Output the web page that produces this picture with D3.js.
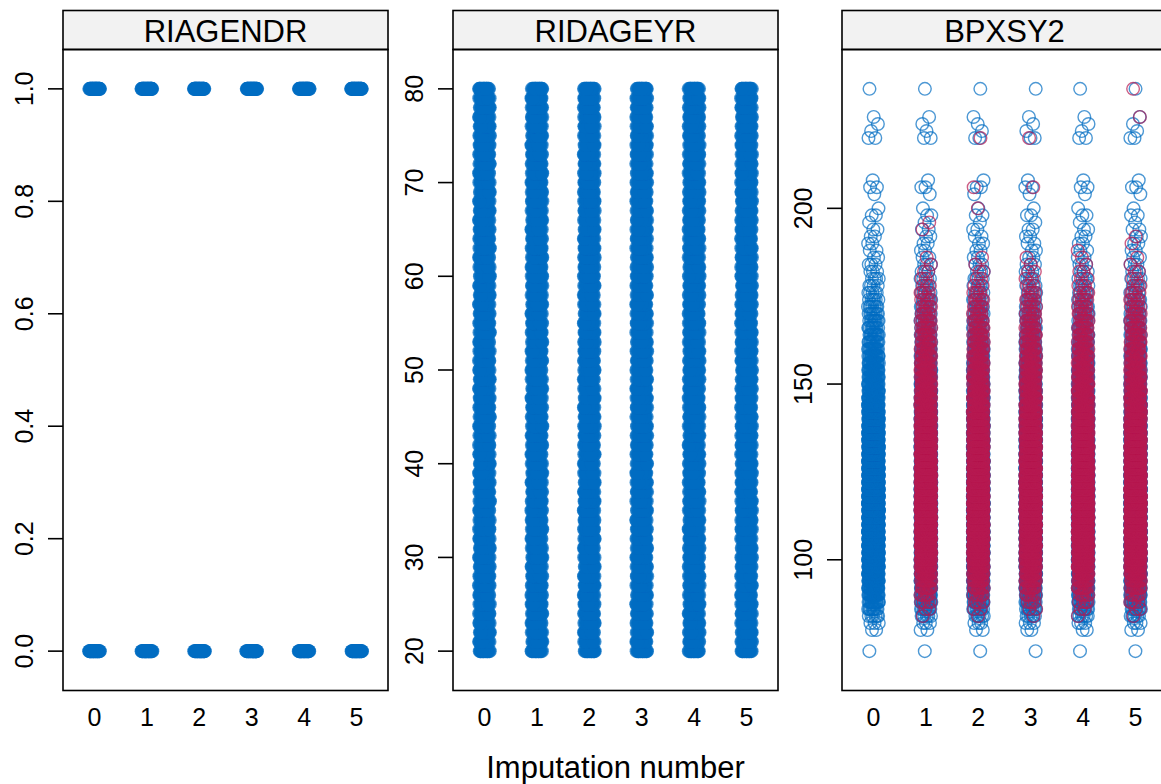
<!DOCTYPE html>
<html>
<head>
<meta charset="utf-8">
<script src="https://cdn.jsdelivr.net/npm/d3@7"></script>
<style>
  html, body { margin: 0; padding: 0; background: #ffffff; }
  svg { display: block; font-family: "Liberation Sans", Arial, Helvetica, sans-serif; }
</style>
</head>
<body>
<svg id="chart" width="1161" height="784"></svg>
<script>
// ---------------- DATA ----------------
const imputations = [0, 1, 2, 3, 4, 5];
const panelTitles = ["RIAGENDR", "RIDAGEYR", "BPXSY2"];
const xLabel = "Imputation number";

const genderValues = [0, 1];
const genderPointsPerValue = 30;

const ageValues = [20,21,22,23,24,25,26,27,28,29,30,31,32,33,34,35,36,37,38,39,40,
  41,42,43,44,45,46,47,48,49,50,51,52,53,54,55,56,57,58,59,60,
  61,62,63,64,65,66,67,68,69,70,71,72,73,74,75,76,77,78,79,80];
const agePointsPerValue = 16;

// Observed systolic BP (value, count) - same observed part in every column
const bpObsValues = [74,80,82,84,86,88,90,92,94,96,98,100,102,104,106,108,110,112,114,116,118,
  120,122,124,126,128,130,132,134,136,138,140,142,144,146,148,150,152,154,156,158,160,
  162,164,166,168,170,172,174,176,178,180,182,184,186,188,190,192,194,196,198,200,
  204,206,208,220,222,224,226,234];
const bpObsCounts = [1,2,3,6,10,16,22,28,34,40,46,52,56,60,63,66,68,70,70,70,68,
  66,64,62,60,57,54,50,47,44,41,38,35,32,29,26,24,22,20,18,16,14,
  12,11,10,9,8,7,6,5,4,4,3,3,2,2,2,2,2,1,2,1,
  1,2,1,2,1,1,1,1];

// Imputed systolic BP (value, count) per imputation 1..5
const bpImpValues = [84,86,88,90,92,94,96,98,100,102,104,106,108,110,112,114,116,118,120,
  122,124,126,128,130,132,134,136,138,140,142,144,146,148,150,152,154,156,158,160,
  162,164,166,168,170,172,174,176,178,180,182,184,186];
const bpImpCounts = [1,2,4,6,10,14,18,22,26,28,30,32,34,35,36,36,36,35,34,
  33,32,31,30,28,26,25,24,22,21,20,18,17,16,15,14,13,12,11,10,
  9,9,8,7,6,5,5,4,3,2,2,1,1];
// Imputation-specific extra imputed values (outliers)
const bpImpExtra = [[], [194, 196], [200, 206, 220], [206, 220], [188], [234, 226, 192, 190]];

const yTicks = [[0, 0.2, 0.4, 0.6, 0.8, 1.0], [20, 30, 40, 50, 60, 70, 80], [100, 150, 200]];
const yTickFormats = [d3.format(".1f"), d3.format("d"), d3.format("d")];

// ---------------- LAYOUT ----------------
const svg = d3.select("#chart");
const panelLefts = [63, 453, 842];
const panelW = 325;
const stripTop = 10.5, stripH = 39;
const plotTop = stripTop + stripH, plotBottom = 690.5;
const blue = "#006CC2", red = "#B61A51";
const jitterAmt = 0.105;

function jit(k, c) {
  const v = (k * 0.61803398875 + c * 0.2718 + 0.13) % 1;
  return v * 2 - 1;
}
function padded(ext) {
  const r = ext[1] - ext[0];
  return [ext[0] - 0.07 * r, ext[1] + 0.07 * r];
}

const yDomains = [
  padded(d3.extent(genderValues)),
  padded(d3.extent(ageValues)),
  padded([d3.min(bpObsValues.concat(bpImpValues)), d3.max(bpObsValues.concat(bpImpValues, bpImpExtra.flat()))])
];

panelTitles.forEach((title, p) => {
  const left = panelLefts[p];
  const x = d3.scaleLinear().domain([-0.6, 5.6]).range([left, left + panelW]);
  const y = d3.scaleLinear().domain(yDomains[p]).range([plotBottom, plotTop]);
  const g = svg.append("g");

  const pts = g.append("g");
  if (p === 0 || p === 1) {
    const vals = p === 0 ? genderValues : ageValues;
    const nPer = p === 0 ? genderPointsPerValue : agePointsPerValue;
    const data = [];
    imputations.forEach(c => {
      let k = 0;
      vals.forEach(v => {
        for (let i = 0; i < nPer; i++) { data.push({c, v, j: jit(k, c)}); k++; }
      });
    });
    pts.selectAll("circle").data(data).join("circle")
      .attr("cx", d => x(d.c + d.j * jitterAmt))
      .attr("cy", d => y(d.v))
      .attr("r", 7)
      .attr("fill", blue)
      .attr("fill-opacity", 0.7);
  } else {
    const obs = [], imp = [];
    imputations.forEach(c => {
      let k = 0;
      bpObsValues.forEach((v, i) => {
        for (let n = 0; n < bpObsCounts[i]; n++) { obs.push({c, v, j: jit(k, c)}); k++; }
      });
      if (c > 0) {
        let m = 0;
        bpImpValues.forEach((v, i) => {
          for (let n = 0; n < bpImpCounts[i]; n++) { imp.push({c, v, j: jit(m, c + 3)}); m++; }
        });
        bpImpExtra[c].forEach(v => { imp.push({c, v, j: jit(m, c + 3)}); m++; });
      }
    });
    pts.selectAll("circle.obs").data(obs).join("circle").attr("class", "obs")
      .attr("cx", d => x(d.c + d.j * jitterAmt))
      .attr("cy", d => y(d.v))
      .attr("r", 6.3).attr("fill", "none")
      .attr("stroke", blue).attr("stroke-opacity", 0.7).attr("stroke-width", 1.4);
    pts.selectAll("circle.imp").data(imp).join("circle").attr("class", "imp")
      .attr("cx", d => x(d.c + d.j * jitterAmt))
      .attr("cy", d => y(d.v))
      .attr("r", 6.3).attr("fill", "none")
      .attr("stroke", red).attr("stroke-opacity", 0.7).attr("stroke-width", 1.4);
  }

  // strip
  g.append("rect").attr("x", left).attr("y", stripTop).attr("width", panelW).attr("height", stripH)
    .attr("fill", "#f2f2f2").attr("stroke", "#000").attr("stroke-width", 1.6);
  g.append("text").attr("x", left + panelW / 2).attr("y", 42).attr("text-anchor", "middle")
    .attr("font-size", 31).attr("fill", "#000").text(title);

  // panel border
  g.append("rect").attr("x", left).attr("y", plotTop).attr("width", panelW).attr("height", plotBottom - plotTop)
    .attr("fill", "none").attr("stroke", "#000").attr("stroke-width", 1.6);

  // y axis ticks
  const yt = g.append("g");
  yTicks[p].forEach(t => {
    yt.append("line").attr("x1", left - 15).attr("x2", left).attr("y1", y(t)).attr("y2", y(t))
      .attr("stroke", "#000").attr("stroke-width", 1.6);
    yt.append("text").attr("transform", `translate(${left - 30},${y(t)}) rotate(-90)`)
      .attr("text-anchor", "middle").attr("font-size", 25).attr("fill", "#000")
      .text(yTickFormats[p](t));
  });

  // x tick labels
  imputations.forEach(c => {
    g.append("text").attr("x", x(c)).attr("y", 726).attr("text-anchor", "middle")
      .attr("font-size", 25).attr("fill", "#000").text(String(c));
  });
});

svg.append("text").attr("x", panelLefts[1] + panelW / 2).attr("y", 778)
  .attr("text-anchor", "middle").attr("font-size", 31).attr("fill", "#000").text(xLabel);
</script>
</body>
</html>
